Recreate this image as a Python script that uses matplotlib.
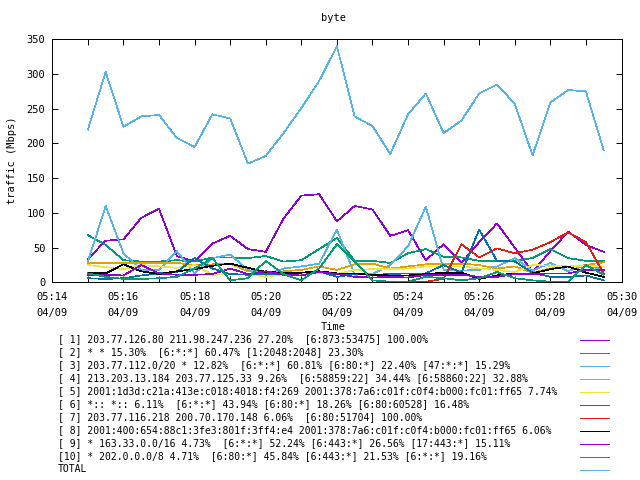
import numpy as np
import pandas as pd
import matplotlib
matplotlib.use('Agg')
import matplotlib.pyplot as plt
import matplotlib.dates as mdates
from matplotlib.lines import Line2D

plt.rcParams['font.family'] = 'DejaVu Sans Mono'
plt.rcParams['lines.antialiased'] = False

# sample times, one every 30 s
times = pd.date_range('2016-04-09 05:15:00', periods=30, freq='30s')

s1 = [34, 60, 62, 93, 106, 38, 30, 56, 67, 48, 44, 92, 125, 127, 88,
      110, 105, 67, 75, 32, 55, 28, 58, 85, 50, 15, 45, 73, 54, 44]
s2 = [68, 54, 32, 30, 30, 32, 30, 36, 36, 35, 38, 30, 32, 48, 64,
      31, 31, 28, 42, 48, 37, 36, 31, 31, 31, 35, 48, 35, 31, 31]
s3 = [30, 110, 42, 18, 18, 45, 13, 35, 40, 18, 11, 20, 23, 27, 76,
      11, 12, 25, 52, 109, 18, 17, 18, 23, 35, 17, 28, 16, 25, 18]
s4 = [28, 28, 28, 28, 28, 28, 25, 26, 27, 16, 13, 16, 18, 23, 18,
      26, 27, 20, 23, 26, 26, 27, 25, 20, 23, 14, 20, 22, 25, 29]
s5 = [25, 22, 19, 25, 23, 21, 25, 11, 12, 12, 8, 12, 12, 13, 12,
      18, 19, 19, 20, 23, 23, 23, 20, 18, 15, 25, 24, 23, 24, 23]
s6 = [6, 5, 6, 10, 13, 15, 35, 20, 12, 11, 12, 13, 14, 16, 8,
      12, 11, 12, 13, 13, 25, 14, 76, 31, 30, 14, 8, 8, 10, 3]
s7 = [0, 0, 0, 0, 0, 0, 0, 0, 0, 0, 0, 0, 0, 0, 0,
      0, 0, 0, 0, 1, 5, 55, 36, 49, 42, 47, 58, 72, 58, 13]
s8 = [14, 13, 26, 16, 12, 16, 19, 24, 27, 21, 15, 14, 14, 16, 13,
      13, 11, 10, 10, 12, 14, 14, 5, 10, 13, 13, 19, 23, 14, 8]
s9 = [11, 11, 10, 25, 13, 11, 11, 12, 20, 12, 16, 11, 10, 15, 12,
      8, 7, 8, 7, 11, 11, 11, 8, 8, 12, 12, 13, 13, 18, 18]
s10 = [13, 8, 5, 5, 6, 8, 20, 35, 3, 6, 31, 12, 3, 20, 55,
       30, 3, 1, 1, 8, 6, 3, 6, 15, 6, 3, 1, 1, 25, 11]
total = [220, 303, 224, 239, 241, 208, 195, 242, 236, 171, 182, 215, 251, 290, 340,
         239, 225, 185, 242, 272, 215, 233, 272, 285, 257, 183, 259, 277, 275, 190]

labels = [
    '[ 1] 203.77.126.80 211.98.247.236 27.20%  [6:873:53475] 100.00%',
    '[ 2] * * 15.30%  [6:*:*] 60.47% [1:2048:2048] 23.30%',
    '[ 3] 203.77.112.0/20 * 12.82%  [6:*:*] 60.81% [6:80:*] 22.40% [47:*:*] 15.29%',
    '[ 4] 213.203.13.184 203.77.125.33 9.26%  [6:58859:22] 34.44% [6:58860:22] 32.88%',
    '[ 5] 2001:1d3d:c21a:413e:c018:4018:f4:269 2001:378:7a6:c01f:c0f4:b000:fc01:ff65 7.74%',
    '[ 6] *:: *:: 6.11%  [6:*:*] 43.94% [6:80:*] 18.26% [6:80:60528] 16.48%',
    '[ 7] 203.77.116.218 200.70.170.148 6.06%  [6:80:51704] 100.00%',
    '[ 8] 2001:400:654:88c1:3fe3:801f:3ff4:e4 2001:378:7a6:c01f:c0f4:b000:fc01:ff65 6.06%',
    '[ 9] * 163.33.0.0/16 4.73%  [6:*:*] 52.24% [6:443:*] 26.56% [17:443:*] 15.11%',
    '[10] * 202.0.0.0/8 4.71%  [6:80:*] 45.84% [6:443:*] 21.53% [6:*:*] 19.16%',
    'TOTAL',
]
colors = ['#9400D3', '#009E73', '#56B4E9', '#E69F00', '#F0E442',
          '#0072B2', '#E51E10', '#000000', '#9400D3', '#009E73', '#56B4E9']

series = [s1, s2, s3, s4, s5, s6, s7, s8, s9, s10, total]

W, H = 640.0, 480.0
fig = plt.figure(figsize=(6.4, 4.8), dpi=100)
ax = fig.add_axes([52.3/W, 1-282.4/H, (621.5-52.3)/W, (282.4-39.3)/H])

for vals, c in zip(series, colors):
    ax.plot(times, vals, color=c, lw=0.5)

ax.set_ylim(0, 350)
ax.set_yticks(np.arange(0, 351, 50))
ax.set_xlim(pd.Timestamp('2016-04-09 05:14'), pd.Timestamp('2016-04-09 05:30'))
major = pd.date_range('2016-04-09 05:14', '2016-04-09 05:30', freq='2min')
ax.set_xticks(major, [t.strftime('%H:%M\n%m/%d') for t in major])
ax.xaxis.set_minor_locator(mdates.MinuteLocator())
for lab in ax.get_xticklabels():
    lab.set_linespacing(1.75)

ax.tick_params(which='both', direction='in', top=True, right=True,
               length=4, width=0.7, labelsize=7.5, colors='black')
ax.tick_params(axis='x', pad=7)
ax.tick_params(axis='y', pad=5)
for sp in ax.spines.values():
    sp.set_linewidth(0.7)

fig.text(333/W, 1-18/H, 'byte', ha='center', va='center', fontsize=7.5)
fig.text(12/W, 1-160/H, 'traffic (Mbps)', ha='center', va='center',
         rotation=90, fontsize=7.5)
fig.text(333/W, 1-327/H, 'Time', ha='center', va='center', fontsize=7.5)

# gnuplot style key: text on the left, sample on the right
for k, (lab, c) in enumerate(zip(labels, colors)):
    y = 1 - (339.5 + 13*k)/H
    fig.text(58/W, y, lab, ha='left', va='center', fontsize=7.0)
    fig.add_artist(Line2D([580/W, 609/W], [y, y], color=c, lw=0.6,
                          transform=fig.transFigure))

fig.savefig('out.png', dpi=100)
